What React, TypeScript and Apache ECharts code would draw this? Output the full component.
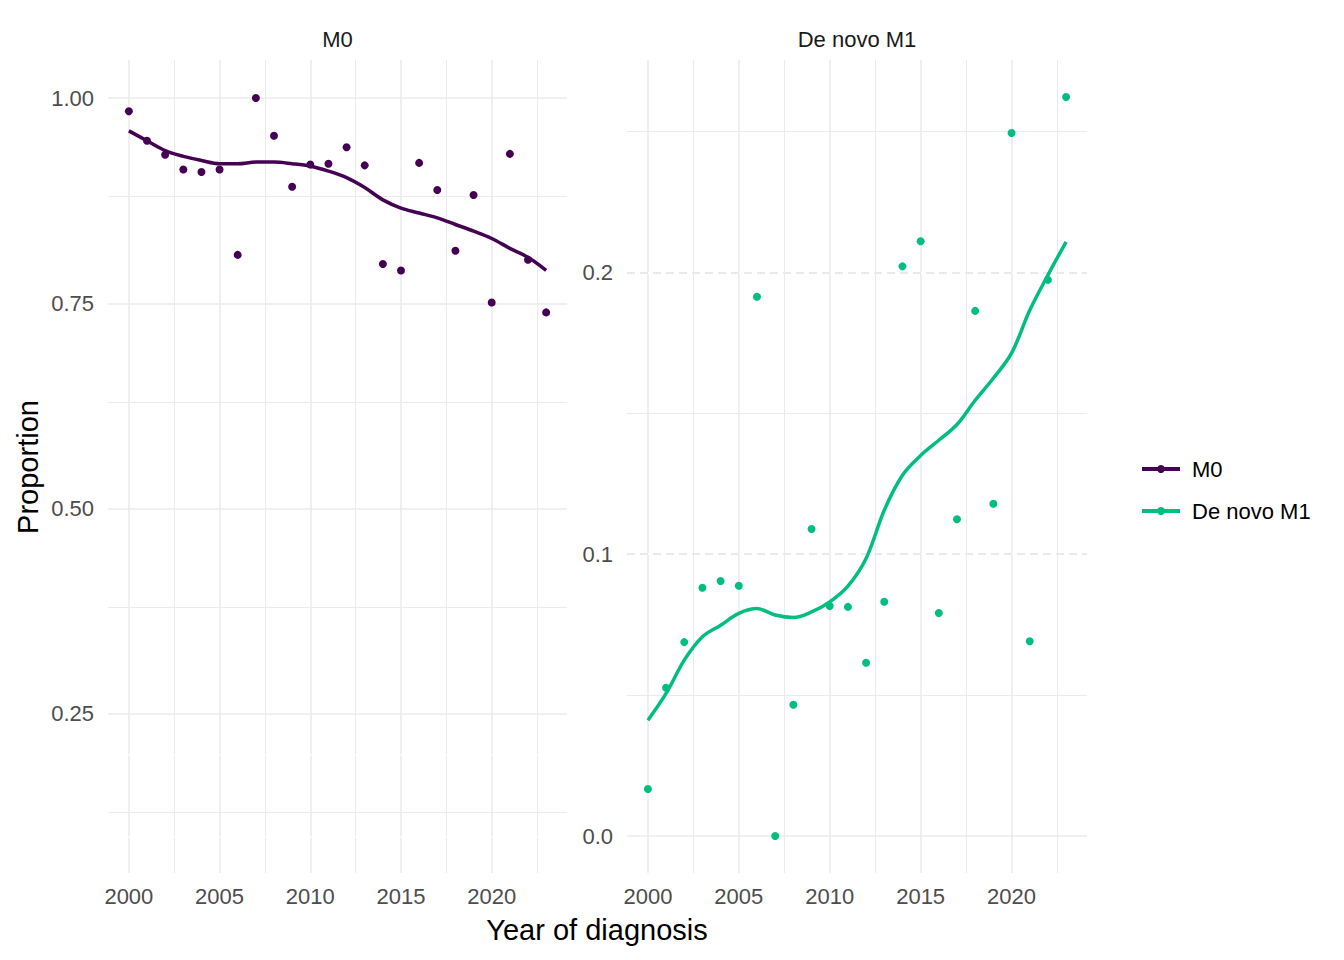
import React, { useEffect, useRef } from "react";
import * as echarts from "echarts";

const years = [2000, 2001, 2002, 2003, 2004, 2005, 2006, 2007, 2008, 2009, 2010, 2011, 2012, 2013, 2014, 2015, 2016, 2017, 2018, 2019, 2020, 2021, 2022, 2023];

const m0Observed = [0.984, 0.948, 0.931, 0.913, 0.91, 0.913, 0.809, 1.0, 0.954, 0.892, 0.919, 0.92, 0.94, 0.918, 0.798, 0.79, 0.921, 0.888, 0.814, 0.882, 0.751, 0.932, 0.803, 0.739];
const m0Smooth = [0.96, 0.948, 0.936, 0.929, 0.924, 0.92, 0.92, 0.922, 0.922, 0.92, 0.917, 0.911, 0.903, 0.891, 0.876, 0.866, 0.86, 0.854, 0.846, 0.838, 0.829, 0.817, 0.806, 0.79];

const m1Observed = [0.0167, 0.0526, 0.0688, 0.0881, 0.0905, 0.0888, 0.1913, 0.0, 0.0466, 0.1089, 0.0816, 0.0813, 0.0615, 0.0831, 0.2021, 0.211, 0.0791, 0.1124, 0.1863, 0.1179, 0.2494, 0.0691, 0.1973, 0.2622];
const m1Smooth = [0.0411, 0.0506, 0.0624, 0.0707, 0.0748, 0.079, 0.0807, 0.0784, 0.0775, 0.0795, 0.0831, 0.0887, 0.0985, 0.1156, 0.128, 0.135, 0.1404, 0.146, 0.1546, 0.1624, 0.1713, 0.1865, 0.199, 0.2108];

const panelTitles = ["M0", "De novo M1"];
const xMajor = [2000, 2005, 2010, 2015, 2020];
const xMinor = [2002.5, 2007.5, 2012.5, 2017.5, 2022.5];
const leftYMajor = [0.25, 0.5, 0.75, 1.0];
const leftYMinor = [0.125, 0.375, 0.625, 0.875];
const rightYMajor = [0.0, 0.1, 0.2];
const rightYMinor = [0.05, 0.15, 0.25];
const refLines = [0.1, 0.2];

const colors = ["#440154", "#00BE7D"];
const FONT = "'Liberation Sans', Arial, sans-serif";

function zip(xs: number[], ys: number[]) {
  return xs.map((x, i) => [x, ys[i]]);
}

export default function App() {
  const ref = useRef<HTMLDivElement>(null);

  useEffect(() => {
    if (!ref.current) return;
    const chart = echarts.init(ref.current, null, { renderer: "svg" });

    const grid = (yMajor: number[], yMinor: number[], dashed: boolean, whiteRef: boolean) => {
      const data: any[] = [];
      xMinor.forEach((v) => data.push({ xAxis: v, lineStyle: { color: "#ebebeb", width: 1, type: "solid" } }));
      xMajor.forEach((v) => data.push({ xAxis: v, lineStyle: { color: "#ebebeb", width: 1.6, type: "solid" } }));
      yMinor.forEach((v) => data.push({ yAxis: v, lineStyle: { color: "#ebebeb", width: 1, type: "solid" } }));
      yMajor.forEach((v) => data.push({ yAxis: v, lineStyle: { color: "#ebebeb", width: 1.6, type: "solid" } }));
      refLines.forEach((v) => {
        if (dashed) {
          data.push({ yAxis: v, lineStyle: { color: "#ffffff", width: 2, type: "solid" } });
          data.push({ yAxis: v, lineStyle: { color: "#e3e3e3", width: 1.6, type: [8, 5] } });
        } else if (whiteRef) {
          data.push({ yAxis: v, lineStyle: { color: "#ffffff", width: 1.6, type: "solid" } });
        }
      });
      return data;
    };

    const yLabelStyle = { color: "#4d4d4d", fontSize: 22, fontFamily: FONT, margin: 14 };

    const option: any = {
      animation: false,
      backgroundColor: "#ffffff",
      grid: [
        { left: 108, top: 60, width: 459, height: 813 },
        { left: 627, top: 60, width: 460, height: 813 },
      ],
      xAxis: [0, 1].map((i) => ({
        type: "value",
        gridIndex: i,
        min: 1998.85,
        max: 2024.15,
        axisLine: { show: false },
        axisTick: { show: false },
        splitLine: { show: false },
        axisLabel: {
          customValues: xMajor,
          color: "#4d4d4d",
          fontSize: 22,
          fontFamily: FONT,
          margin: 12,
          formatter: (v: number) => String(Math.round(v)),
        },
      })),
      yAxis: [
        {
          type: "value",
          gridIndex: 0,
          min: 0.0564,
          max: 1.0463,
          axisLine: { show: false },
          axisTick: { show: false },
          splitLine: { show: false },
          axisLabel: { ...yLabelStyle, customValues: leftYMajor, formatter: (v: number) => v.toFixed(2) },
        },
        {
          type: "value",
          gridIndex: 1,
          min: -0.0131,
          max: 0.2753,
          axisLine: { show: false },
          axisTick: { show: false },
          splitLine: { show: false },
          axisLabel: { ...yLabelStyle, customValues: rightYMajor, formatter: (v: number) => v.toFixed(1) },
        },
      ],
      legend: {
        orient: "vertical",
        left: 1135,
        top: 453,
        itemWidth: 38,
        itemHeight: 10,
        itemGap: 20,
        data: panelTitles,
        lineStyle: { width: 4 },
        textStyle: { fontSize: 22, color: "#000000", fontFamily: FONT, padding: [0, 0, 0, 7] },
      },
      graphic: [
        { type: "text", x: 337.5, y: 39, style: { text: panelTitles[0], fontSize: 22, fontFamily: FONT, fill: "#1a1a1a", textAlign: "center", textVerticalAlign: "middle" } },
        { type: "text", x: 857, y: 39, style: { text: panelTitles[1], fontSize: 22, fontFamily: FONT, fill: "#1a1a1a", textAlign: "center", textVerticalAlign: "middle" } },
        { type: "text", x: 597, y: 930, style: { text: "Year of diagnosis", fontSize: 29, fontFamily: FONT, fill: "#000000", textAlign: "center", textVerticalAlign: "middle" } },
        { type: "text", x: 28, y: 467, rotation: Math.PI / 2, style: { text: "Proportion", fontSize: 29, fontFamily: FONT, fill: "#000000", textAlign: "center", textVerticalAlign: "middle" } },
      ],
      series: [
        {
          name: "grid-left",
          type: "scatter",
          xAxisIndex: 0,
          yAxisIndex: 0,
          data: zip(years, m0Observed),
          symbolSize: 0,
          silent: true,
          z: 0,
          markLine: { z: 0, silent: true, symbol: ["none", "none"], label: { show: false }, animation: false, data: grid(leftYMajor, leftYMinor, false, true) },
        },
        {
          name: "grid-right",
          type: "scatter",
          xAxisIndex: 1,
          yAxisIndex: 1,
          data: zip(years, m1Observed),
          symbolSize: 0,
          silent: true,
          z: 0,
          markLine: { z: 0, silent: true, symbol: ["none", "none"], label: { show: false }, animation: false, data: grid(rightYMajor, rightYMinor, true, false) },
        },
        {
          name: panelTitles[0],
          type: "line",
          xAxisIndex: 0,
          yAxisIndex: 0,
          data: zip(years, m0Smooth),
          smooth: 0.35,
          showSymbol: false,
          symbol: "circle",
          symbolSize: 7,
          itemStyle: { color: colors[0] },
          lineStyle: { color: colors[0], width: 3.5 },
          z: 3,
        },
        {
          name: "M0 observed",
          type: "scatter",
          xAxisIndex: 0,
          yAxisIndex: 0,
          data: zip(years, m0Observed),
          symbolSize: 8,
          itemStyle: { color: colors[0], opacity: 1 },
          z: 4,
        },
        {
          name: panelTitles[1],
          type: "line",
          xAxisIndex: 1,
          yAxisIndex: 1,
          data: zip(years, m1Smooth),
          smooth: 0.35,
          showSymbol: false,
          symbol: "circle",
          symbolSize: 7,
          itemStyle: { color: colors[1] },
          lineStyle: { color: colors[1], width: 3.5 },
          z: 3,
        },
        {
          name: "De novo M1 observed",
          type: "scatter",
          xAxisIndex: 1,
          yAxisIndex: 1,
          data: zip(years, m1Observed),
          symbolSize: 8,
          itemStyle: { color: colors[1], opacity: 1 },
          z: 4,
        },
      ],
    };

    chart.setOption(option);
    return () => chart.dispose();
  }, []);

  return <div ref={ref} style={{ position: "fixed", left: 0, top: 0, width: 1344, height: 960, background: "#fff" }} />;
}
